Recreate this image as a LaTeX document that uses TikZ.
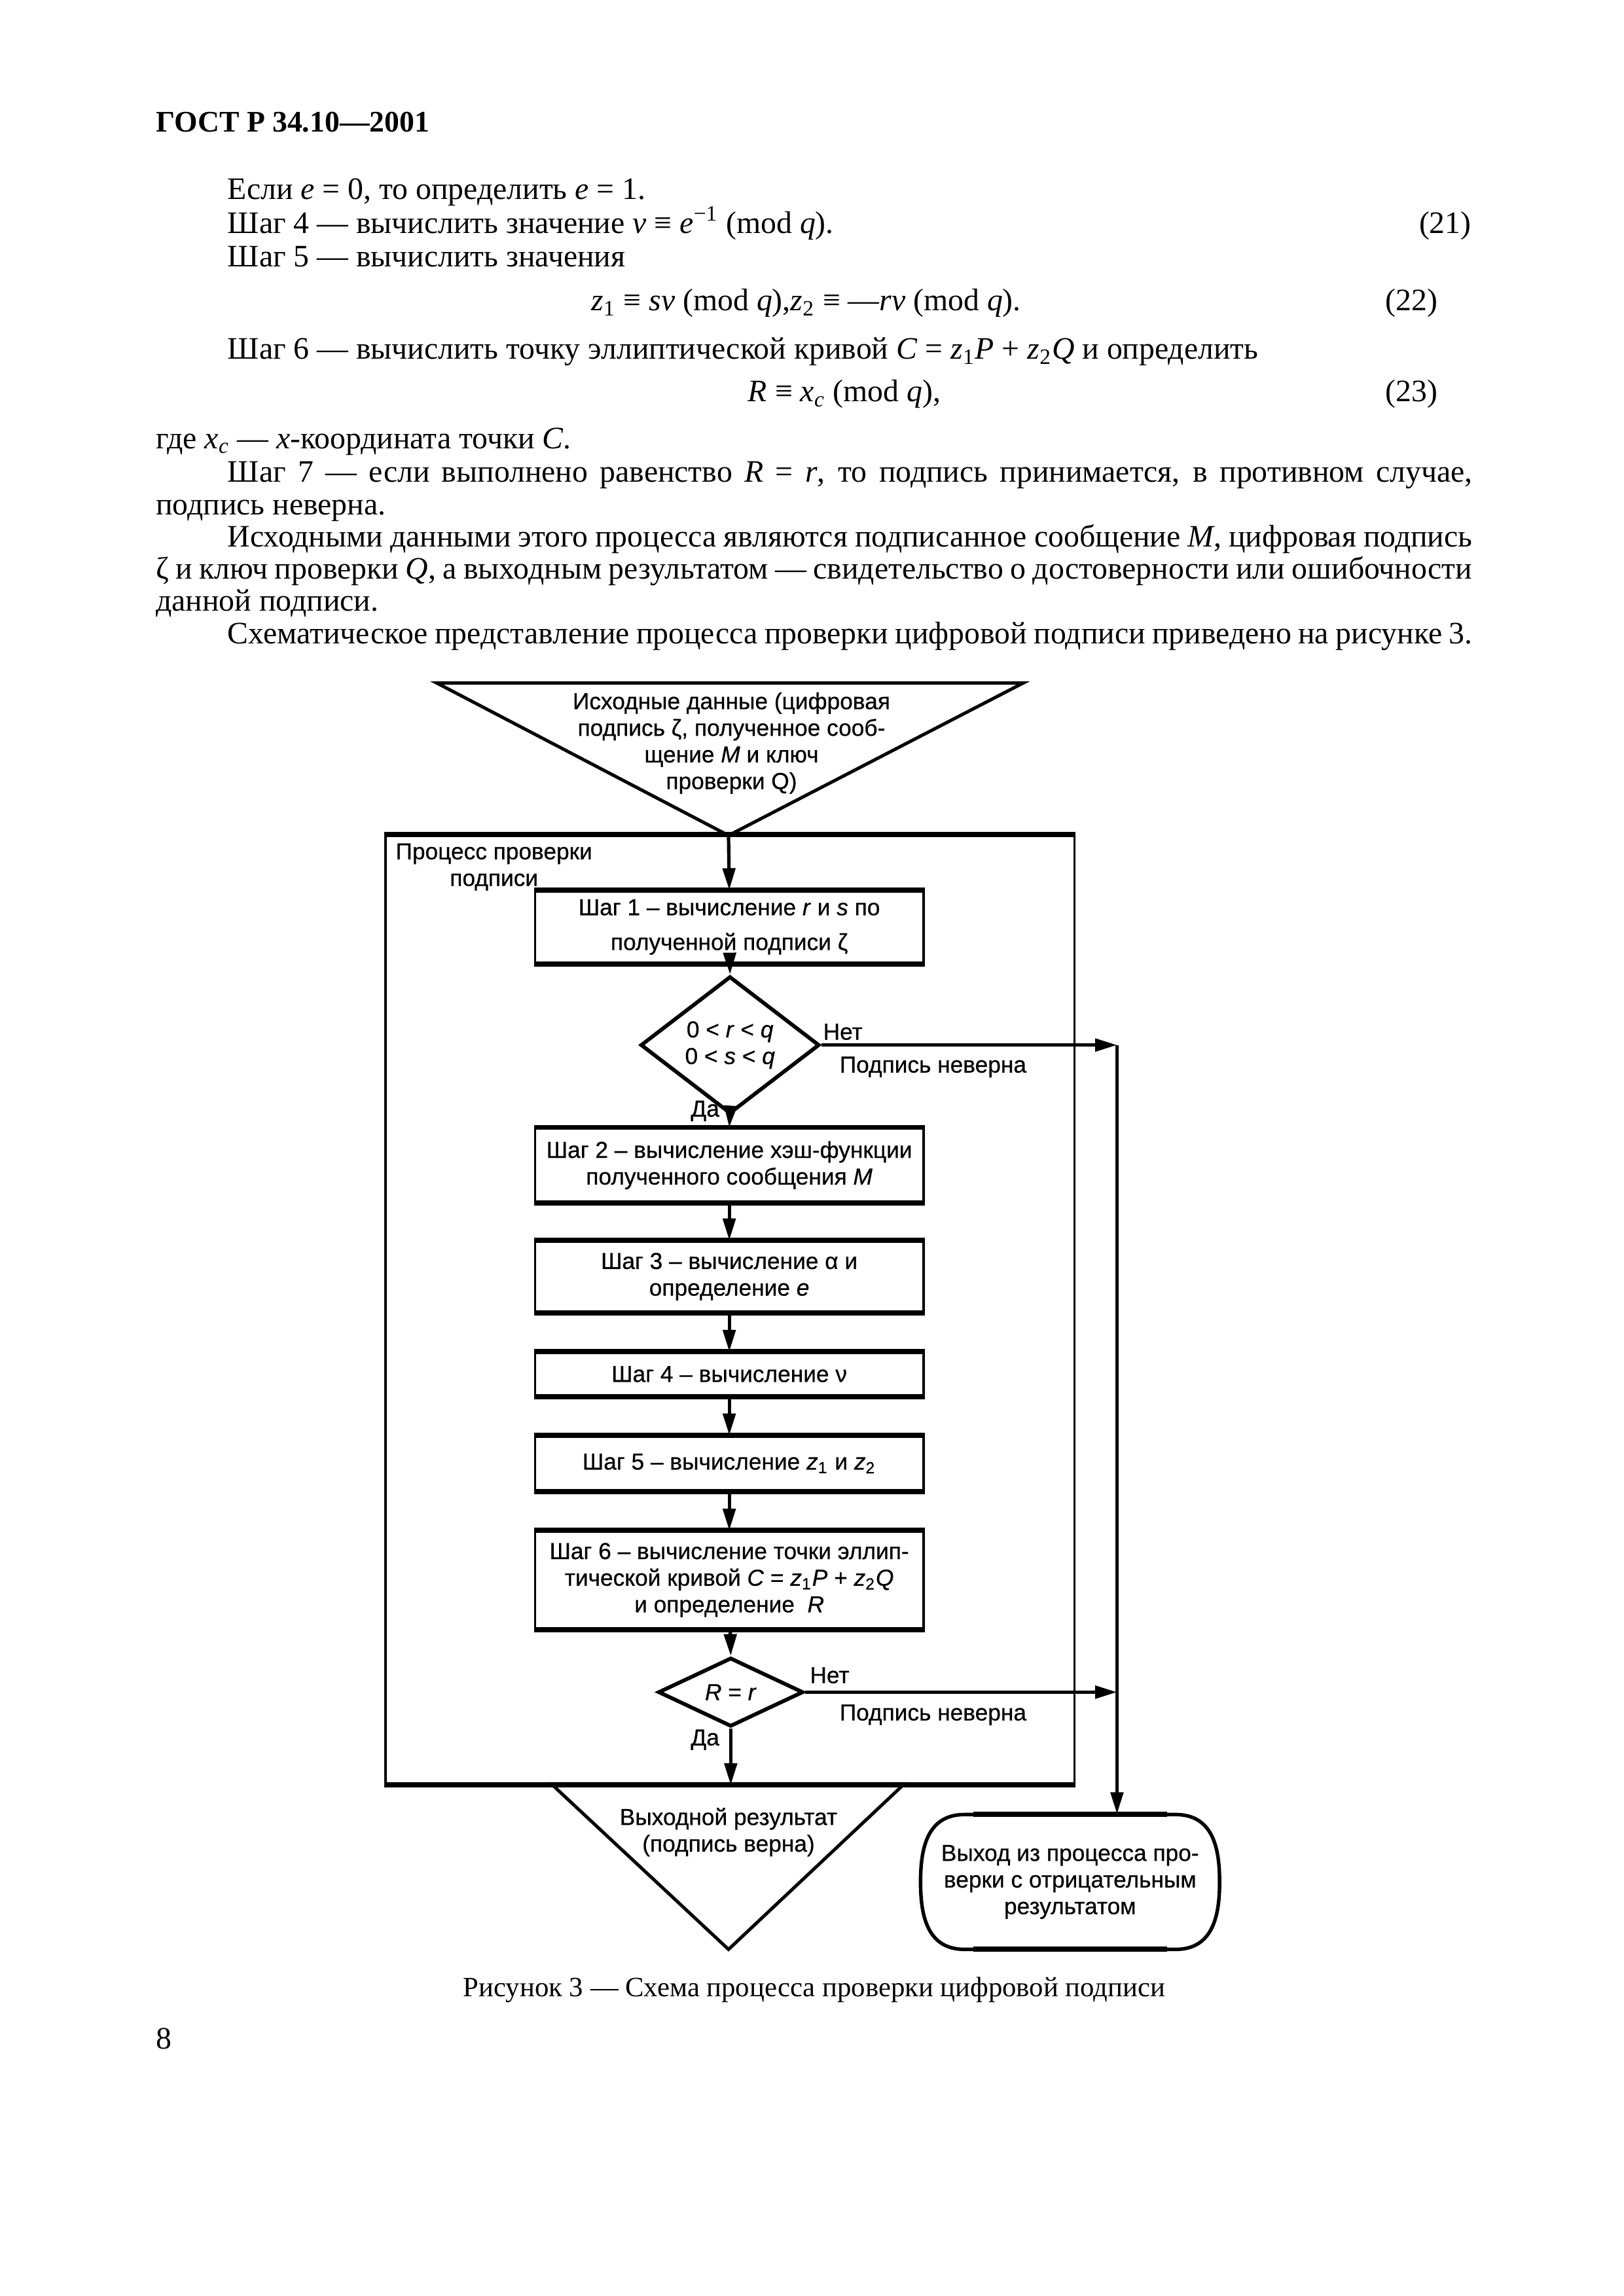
\documentclass[tikz,border=0pt]{standalone}
\usepackage{fontspec}
\setmainfont{Liberation Serif}
\newfontfamily\fsans[RawFeature={embolden=0.6}]{Liberation Sans}
\usetikzlibrary{arrows.meta,shapes.geometric}
\def\u{0.1896mm}
\begin{document}
\begin{tikzpicture}[x=0.1896mm,y=-0.1896mm,
  txt/.style={anchor=base west,inner sep=0pt,font=\fontsize{11.5}{13}\selectfont},
  txtr/.style={txt,anchor=base east},
  fc/.style={font=\fsans\fontsize{8.5}{9.8}\selectfont,inner sep=0pt,align=center},
  stepbox/.style={fc,draw,line width=0.9pt,minimum width={265*\u}},
  hedge/.style={line width=1.9pt},
  dia/.style={fc,draw,diamond,line width=1.4pt},
  conn/.style={line width=1.25pt,-{Triangle[length=8pt,width=4.6pt]}},
  tri/.style={line width=1.2pt,line join=miter},
]
\fill[white] (0,0) rectangle (1107.6,1566.5);
\useasboundingbox (0,0) rectangle (1107.6,1566.5);

% ---------- body text ----------
\node[txt,font=\bfseries\fontsize{11}{13}\selectfont] (hdr) at (106,90) {ГОСТ Р 34.10—2001};
\node[txt] (t1) at (155,136) {Если \textit{e} = 0, то определить \textit{e} = 1.};
\node[txt] (t2) at (155,159) {Шаг 4 — вычислить значение \textit{v} ≡ \textit{e}\textsuperscript{−1} (mod \textit{q}).};
\node[txtr] (n21) at (1004,159) {(21)};
\node[txt] (t3) at (155,182) {Шаг 5 — вычислить значения};
\node[txt,anchor=base] (t4) at (550,212) {\textit{z}\textsubscript{1} ≡ \textit{sv} (mod \textit{q}),\textit{z}\textsubscript{2} ≡ —\textit{rv} (mod \textit{q}).};
\node[txtr] (n22) at (981,212) {(22)};
\node[txt] (t5) at (155,245) {Шаг 6 — вычислить точку эллиптической кривой \textit{C} = \textit{z}\textsubscript{1}\textit{P} + \textit{z}\textsubscript{2}\textit{Q} и определить};
\node[txt] (t6) at (510,274) {\textit{R} ≡ \textit{x}\textsubscript{\textit{c}} (mod \textit{q}),};
\node[txtr] (n23) at (981,274) {(23)};
\node[txt] (t7) at (106,306) {где \textit{x}\textsubscript{\textit{c}} — \textit{x}-координата точки \textit{C}.};
\node[txt] (t8) at (155,329) {\makebox[161.0mm][s]{Шаг 7 — если выполнено равенство \textit{R} = \textit{r}, то подпись принимается, в противном случае,}};
\node[txt] (t9) at (106,351) {подпись неверна.};
\node[txt] (t10) at (155,373) {\makebox[161.0mm][s]{Исходными данными этого процесса являются подписанное сообщение \textit{M}, цифровая подпись}};
\node[txt] (t11) at (106,395) {\makebox[170.26mm][s]{ζ и ключ проверки \textit{Q}, а выходным результатом — свидетельство о достоверности или ошибочности}};
\node[txt] (t12) at (106,417) {данной подписи.};
\node[txt] (t13) at (155,439) {\makebox[161.0mm][s]{Схематическое представление процесса проверки цифровой подписи приведено на рисунке 3.}};

% ---------- flowchart ----------
\draw[tri] (298,466) -- (698,466) -- (497,570) -- cycle;
\coordinate (inapex) at (497,570);
\node[fc] (intext) at (499,507) {Исходные данные (цифровая\\подпись ζ, полученное сооб-\\щение \textit{M} и ключ\\проверки Q)};

\node[draw,line width=0.9pt,minimum width={470*\u},minimum height={647*\u},inner sep=0pt] (proc) at (498,893.5) {};
\node[fc] (proclab) at (337,591.5) {Процесс проверки\\подписи};

\node[stepbox,minimum height={49*\u}] (s1) at (497.5,632.5) {Шаг 1 – вычисление \textit{r} и \textit{s} по\\[3pt]полученной подписи ζ};
\node[dia,minimum width={122*\u},minimum height={74*\u}] (d1) at (498,713) {0 < \textit{r} < \textit{q}\\0 < \textit{s} < \textit{q}};
\node[stepbox,minimum height={50*\u}] (s2) at (497.5,795) {Шаг 2 – вычисление хэш-функции\\полученного сообщения \textit{M}};
\node[stepbox,minimum height={48*\u}] (s3) at (497.5,871) {Шаг 3 – вычисление α и\\определение \textit{e}};
\node[stepbox,minimum height={29*\u}] (s4) at (497.5,937.5) {Шаг 4 – вычисление ν};
\node[stepbox,minimum height={37*\u}] (s5) at (497.5,998.5) {Шаг 5 – вычисление \textit{z}\textsubscript{1} и \textit{z}\textsubscript{2}};
\node[stepbox,minimum height={66*\u}] (s6) at (497.5,1078) {Шаг 6 – вычисление точки эллип-\\тической кривой \textit{C} = \textit{z}\textsubscript{1}\textit{P} + \textit{z}\textsubscript{2}\textit{Q}\\и определение~ \textit{R}};
\node[dia,minimum width={99*\u},minimum height={47*\u}] (d2) at (498.5,1154.5) {\textit{R} = \textit{r}};

\foreach \n in {s1,s2,s3,s4,s5,s6,proc}
  \draw[hedge] (\n.north west) -- (\n.north east) (\n.south west) -- (\n.south east);

\node[fc] (no1) at (575,704) {Нет};
\node[fc] (bad1) at (636.5,728) {Подпись неверна};
\node[fc] (yes1) at (481,758) {Да};
\node[fc] (no2) at (566,1143) {Нет};
\node[fc] (bad2) at (636.5,1170) {Подпись неверна};
\node[fc] (yes2) at (481,1187) {Да};

% output triangle
\draw[tri] (376,1217) -- (617,1217) -- (497,1330) -- cycle;
\node[fc] (out) at (497,1250) {Выходной результат\\(подпись верна)};

% exit terminal
\node[fc,minimum width={204*\u},minimum height={92*\u}] (exit) at (730,1284) {Выход из процесса про-\\верки с отрицательным\\результатом};
\draw[line width=1.3pt] (658,1238) -- (802,1238) .. controls (828,1238) and (832,1262) .. (832,1284)
  .. controls (832,1306) and (828,1330) .. (802,1330) -- (658,1330)
  .. controls (632,1330) and (628,1306) .. (628,1284) .. controls (628,1262) and (632,1238) .. (658,1238) -- cycle;
\draw[hedge] (664,1238) -- (796,1238) (664,1330) -- (796,1330);

\coordinate (j1) at (762,713);
\coordinate (j2) at (762,1154.5);

% connectors
\draw[conn] (inapex) -- (s1.north);
\draw[conn] (s1) -- (d1.north);
\draw[conn] (d1.south) -- (s2.north);
\draw[conn] (s2) -- (s3);
\draw[conn] (s3) -- (s4);
\draw[conn] (s4) -- (s5);
\draw[conn] (s5) -- (s6);
\draw[conn] (s6) -- (d2.north);
\draw[conn] (d2.south) -- (d2.south |- proc.south);
\draw[conn] (d1.east) -- (j1);
\draw[conn] (d2.east) -- (j2);
\draw[conn] (j1) -- (j1 |- exit.north);

% caption and page number
\node[txt,anchor=base,font=\fontsize{10.3}{12}\selectfont] (cap) at (555.5,1362) {Рисунок 3 — Схема процесса проверки цифровой подписи};
\node[txt] (pg) at (106,1398) {8};
\end{tikzpicture}
\end{document}
